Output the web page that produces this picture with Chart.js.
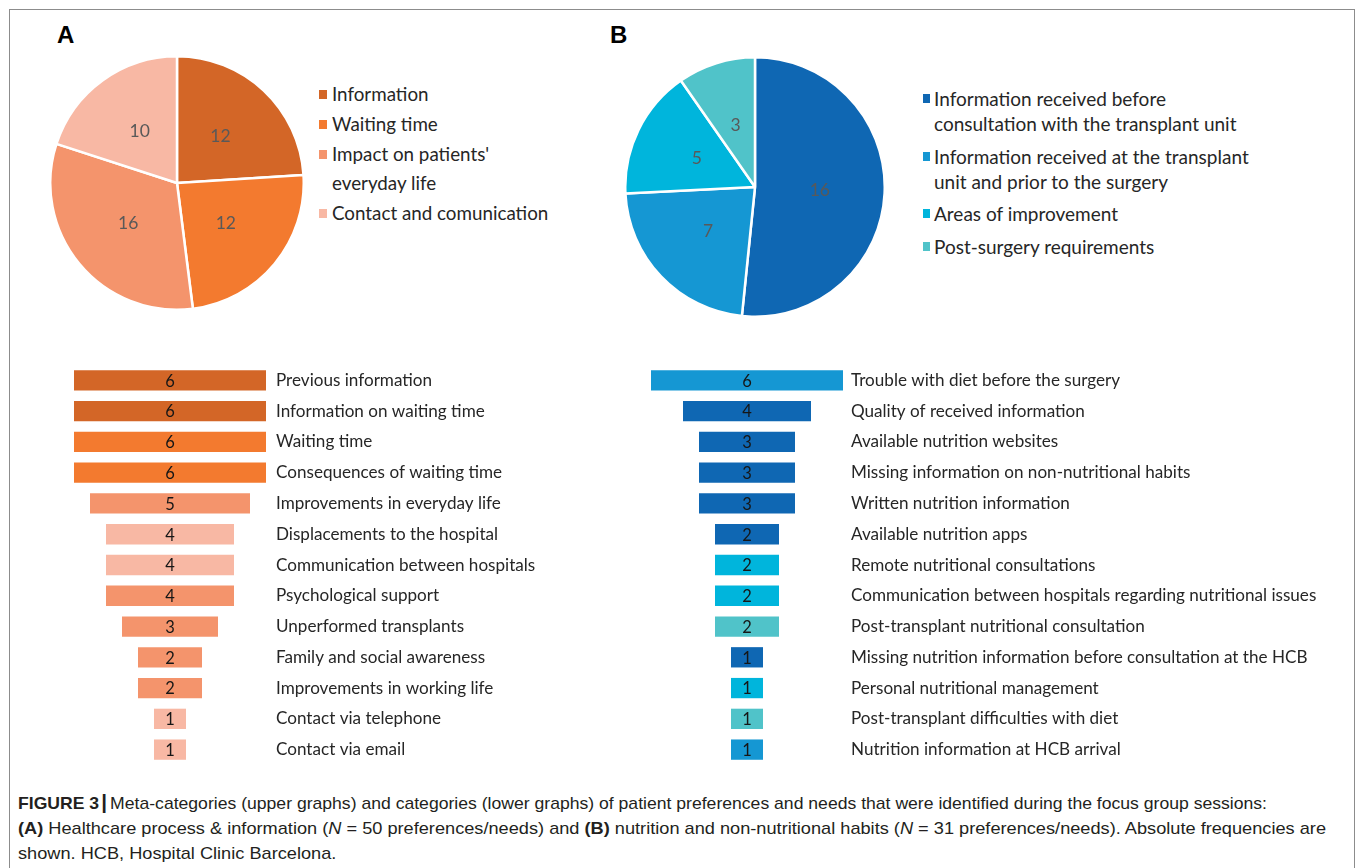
<!DOCTYPE html>
<html>
<head>
<meta charset="utf-8">
<script src="https://cdn.jsdelivr.net/npm/chart.js@4.4.0/dist/chart.umd.min.js"></script>
<style>
html,body{margin:0;padding:0;background:#fff;width:1358px;height:868px;overflow:hidden;}
#frame{position:absolute;left:9px;top:9px;width:1344px;height:900px;border:1.5px solid #8c8c8c;border-bottom:none;}
.abs{position:absolute;}
.panel{font:bold 24px "Liberation Sans",Arial,sans-serif;color:#000;line-height:24px;}
.leg{position:absolute;font-family:Lato,sans-serif;color:#262626;white-space:nowrap;}
.leg .item{position:relative;}
.leg .sw{position:absolute;}
#legA{left:332px;top:80px;font-size:18.8px;line-height:28.5px;}
#legA .item{margin-bottom:1.5px;}
#legA .sw{left:-13px;top:10px;width:8px;height:9px;}
#legB{left:934px;top:86px;font-size:19px;line-height:25px;}
#legB .item{margin-bottom:7.5px;}
#legB .sw{left:-11px;top:8px;width:7px;height:9px;}
#caption{position:absolute;left:18px;top:790px;font-family:"Liberation Sans",Arial,sans-serif;font-size:17px;color:#231f20;}
#caption .ln{white-space:nowrap;height:25.5px;line-height:25.5px;display:block;}
#caption .ln span.w{display:inline-block;transform-origin:0 50%;}
#caption .pipe{font-weight:bold;font-size:20px;margin:0 3px 0 2px;}
canvas{position:absolute;}
</style>
</head>
<body>
<div id="frame"></div>
<div class="abs panel" style="left:57px;top:23px;">A</div>
<div class="abs panel" style="left:610px;top:23px;">B</div>

<canvas id="pieA" width="256" height="256" style="left:49px;top:55px;"></canvas>
<canvas id="pieB" width="262" height="262" style="left:624px;top:56px;"></canvas>
<div id="legA" class="leg"></div>
<div id="legB" class="leg"></div>

<canvas id="barA" width="512" height="400" style="left:74px;top:365px;"></canvas>
<canvas id="barB" width="697" height="400" style="left:651px;top:365px;"></canvas>

<div id="caption">
  <div class="ln"><span class="w" id="cap1"><b>FIGURE 3</b><span class="pipe">|</span>Meta-categories (upper graphs) and categories (lower graphs) of patient preferences and needs that were identified during the focus group sessions:</span></div>
  <div class="ln"><span class="w" id="cap2"><b>(A)</b> Healthcare process &amp; information (<i>N</i> = 50 preferences/needs) and <b>(B)</b> nutrition and non-nutritional habits (<i>N</i> = 31 preferences/needs). Absolute frequencies are</span></div>
  <div class="ln"><span class="w" id="cap3">shown. HCB, Hospital Clinic Barcelona.</span></div>
</div>

<script>
// ---------- DATA ----------
const pieALabels = ["Information", "Waiting time", ["Impact on patients'", "everyday life"], "Contact and comunication"];
const pieAValues = [12, 12, 16, 10];

const pieBLabels = [["Information received before", "consultation with the transplant unit"],
                    ["Information received at the transplant", "unit and prior to the surgery"],
                    "Areas of improvement",
                    "Post-surgery requirements"];
const pieBValues = [16, 7, 5, 3];

const barACategories = ["Previous information", "Information on waiting time", "Waiting time",
  "Consequences of waiting time", "Improvements in everyday life", "Displacements to the hospital",
  "Communication between hospitals", "Psychological support", "Unperformed transplants",
  "Family and social awareness", "Improvements in working life", "Contact via telephone", "Contact via email"];
const barAValues = [6, 6, 6, 6, 5, 4, 4, 4, 3, 2, 2, 1, 1];
const barAGroup  = [0, 0, 1, 1, 2, 3, 3, 2, 2, 2, 2, 3, 3];   // meta-category of each category

const barBCategories = ["Trouble with diet before the surgery", "Quality of received information",
  "Available nutrition websites", "Missing information on non-nutritional habits",
  "Written nutrition information", "Available nutrition apps", "Remote nutritional consultations",
  "Communication between hospitals regarding nutritional issues", "Post-transplant nutritional consultation",
  "Missing nutrition information before consultation at the HCB", "Personal nutritional management",
  "Post-transplant difficulties with diet", "Nutrition information at HCB arrival"];
const barBValues = [6, 4, 3, 3, 3, 2, 2, 2, 2, 1, 1, 1, 1];
const barBGroup  = [1, 0, 0, 0, 0, 0, 2, 2, 3, 0, 2, 3, 1];

// ---------- STYLE ----------
const paletteA = ["#D36627", "#F37A2F", "#F4946C", "#F8B8A4"];
const paletteB = ["#0F67B3", "#1597D3", "#00B5DC", "#50C3C9"];
const FONT = "Lato, 'Noto Sans', sans-serif";

// ---------- PLUGINS ----------
const pieLabelPlugin = {
  id: 'pieLabels',
  afterDatasetsDraw(chart) {
    const ctx = chart.ctx;
    const meta = chart.getDatasetMeta(0);
    const vals = chart.data.datasets[0].data;
    ctx.save();
    ctx.fillStyle = '#595959';
    ctx.font = "17.5px " + FONT;
    ctx.textAlign = 'center';
    ctx.textBaseline = 'middle';
    meta.data.forEach((arc, i) => {
      const p = arc.getProps(['x', 'y', 'startAngle', 'endAngle', 'outerRadius'], true);
      const mid = (p.startAngle + p.endAngle) / 2;
      const r = p.outerRadius * 0.5;
      ctx.fillText(String(vals[i]), p.x + Math.cos(mid) * r, p.y + Math.sin(mid) * r);
    });
    ctx.restore();
  }
};

const barValuePlugin = {
  id: 'barValues',
  afterDatasetsDraw(chart, args, opts) {
    const ctx = chart.ctx;
    const meta = chart.getDatasetMeta(0);
    const vals = opts.values;
    ctx.save();
    ctx.fillStyle = '#161616';
    ctx.font = "16.5px " + FONT;
    ctx.textAlign = 'center';
    ctx.textBaseline = 'middle';
    meta.data.forEach((bar, i) => {
      const p = bar.getProps(['x', 'y', 'base'], true);
      ctx.fillText(String(vals[i]), (p.x + p.base) / 2, p.y + 1);
    });
    ctx.restore();
  }
};

// ---------- PIES ----------
function makePie(id, labels, values, palette) {
  return new Chart(document.getElementById(id), {
    type: 'pie',
    data: {
      labels: labels,
      datasets: [{ data: values, backgroundColor: palette, borderColor: '#ffffff', borderWidth: 2.5 }]
    },
    options: {
      responsive: false, animation: false, devicePixelRatio: 1,
      layout: { padding: 0 },
      plugins: { legend: { display: false }, tooltip: { enabled: false } }
    },
    plugins: [pieLabelPlugin]
  });
}
makePie('pieA', pieALabels, pieAValues, paletteA);
makePie('pieB', pieBLabels, pieBValues, paletteB);

function makeLegend(id, labels, palette) {
  const el = document.getElementById(id);
  labels.forEach((lab, i) => {
    const item = document.createElement('div');
    item.className = 'item';
    const sw = document.createElement('span');
    sw.className = 'sw';
    sw.style.background = palette[i];
    item.appendChild(sw);
    (Array.isArray(lab) ? lab : [lab]).forEach(line => {
      const d = document.createElement('div');
      d.textContent = line;
      item.appendChild(d);
    });
    el.appendChild(item);
  });
}
makeLegend('legA', pieALabels, paletteA);
makeLegend('legB', pieBLabels, paletteB);

// ---------- FUNNEL BARS ----------
function makeFunnel(id, cats, values, groups, palette, labelWidth, pad, fontSize) {
  const half = Math.max(...values) / 2;
  return new Chart(document.getElementById(id), {
    type: 'bar',
    data: {
      labels: cats,
      datasets: [{
        data: values.map(v => [-v / 2, v / 2]),
        backgroundColor: groups.map(g => palette[g]),
        borderWidth: 0,
        categoryPercentage: 1,
        barPercentage: 0.66
      }]
    },
    options: {
      indexAxis: 'y',
      responsive: false, animation: false, devicePixelRatio: 1,
      layout: { padding: 0 },
      scales: {
        x: { display: false, min: -half, max: half },
        y: {
          position: 'right',
          grid: { display: false, drawTicks: false },
          border: { display: false },
          ticks: { autoSkip: false, padding: pad, color: '#262626', crossAlign: 'near',
                   font: { family: FONT, size: fontSize } },
          afterFit(s) { s.width = labelWidth; s.paddingTop = 0; s.paddingBottom = 0; }
        }
      },
      plugins: { legend: { display: false }, tooltip: { enabled: false }, barValues: { values: values } }
    },
    plugins: [barValuePlugin]
  });
}
makeFunnel('barA', barACategories, barAValues, barAGroup, paletteA, 320, 10, 17.1);
makeFunnel('barB', barBCategories, barBValues, barBGroup, paletteB, 505, 8, 17.1);

// ---------- CAPTION FIT ----------
(function () {
  const c1 = document.getElementById('cap1'), c2 = document.getElementById('cap2'), c3 = document.getElementById('cap3');
  const k2 = 1308 / c2.getBoundingClientRect().width;
  const k1 = 1249 / c1.getBoundingClientRect().width;
  c2.style.transform = 'scaleX(' + k2 + ')';
  c1.style.transform = 'scaleX(' + k1 + ')';
  c3.style.transform = 'scaleX(' + k2 + ')';
})();
</script>
</body>
</html>
